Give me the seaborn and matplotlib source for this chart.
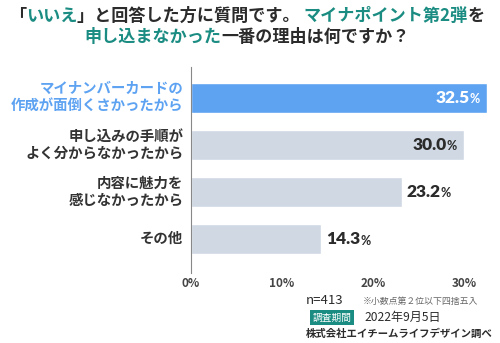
import matplotlib
matplotlib.use("Agg")
import matplotlib.pyplot as plt
import seaborn as sns
import pandas as pd

# Survey answers (percent) with the reasons as categories
reasons = [
    "マイナンバーカードの\n作成が面倒くさかったから",
    "申し込みの手順が\nよく分からなかったから",
    "内容に魅力を\n感じなかったから",
    "その他",
]
shares = [32.5, 30.0, 23.2, 14.3]
tick_values = [0, 10, 20, 30]
tick_labels = ["0%", "10%", "20%", "30%"]

BLUE = "#5ea3f2"
GREY = "#cfd8e3"
TEAL = "#1a8c82"
DARK = "#2b2b2b"
JP = ["Noto Sans CJK JP", "DejaVu Sans"]

sns.set_theme(style="white")
plt.rcParams["font.family"] = JP

df = pd.DataFrame({"reason": reasons, "share": shares})
palette = [BLUE] + [GREY] * (len(reasons) - 1)

fig = plt.figure(figsize=(5.0, 3.43), dpi=100)
W, H = 500, 343
ax = fig.add_axes([191 / W, 1 - 273 / H, 300 / W, (273 - 67) / H])

sns.barplot(data=df, y="reason", x="share", hue="reason", palette=palette,
            legend=False, width=0.64, ax=ax, saturation=1)

ax.set_xlim(0, 300 / 9.1)
ax.set_ylim(3.72, -0.66)
ax.set_xlabel("")
ax.set_ylabel("")
ax.set_xticks(tick_values)
ax.set_xticklabels(tick_labels, fontsize=8.5, color="#444444", fontweight="bold")
ax.tick_params(axis="x", length=0, pad=3)
ax.set_yticks([])
for side in ["top", "right", "bottom"]:
    ax.spines[side].set_visible(False)
ax.spines["left"].set_color("#888888")
ax.spines["left"].set_linewidth(0.8)

# Category labels to the left of the axis
for i, r in enumerate(reasons):
    ax.text(-0.85, i, r, ha="right", va="center", fontsize=10.4,
            fontweight="bold", color=BLUE if i == 0 else "#333333",
            linespacing=1.3, family=JP)

fig.canvas.draw()
renderer = fig.canvas.get_renderer()
NUM = ["Lato", "DejaVu Sans"]
NS, PS = 12.5, 9

# Value labels: number plus a smaller percent sign
for i, v in enumerate(shares):
    inside = i < 2
    color = "white" if i == 0 else DARK
    if inside:
        pct = ax.annotate("%", (v, i), xytext=(-5, -1), textcoords="offset points",
                          ha="right", va="center", fontsize=PS, fontweight="bold",
                          color=color, family=NUM)
        fig.canvas.draw()
        bb = pct.get_window_extent(renderer)
        wpt = bb.width * 72 / fig.dpi
        ax.annotate(f"{v:.1f}", (v, i), xytext=(-5 - wpt, 0), textcoords="offset points",
                    ha="right", va="center", fontsize=NS, fontweight="heavy",
                    color=color, family=NUM)
    else:
        num = ax.annotate(f"{v:.1f}", (v, i), xytext=(3.5, 0), textcoords="offset points",
                          ha="left", va="center", fontsize=NS, fontweight="heavy",
                          color=color, family=NUM)
        fig.canvas.draw()
        bb = num.get_window_extent(renderer)
        wpt = bb.width * 72 / fig.dpi
        ax.annotate("%", (v, i), xytext=(3.5 + wpt, -1), textcoords="offset points",
                    ha="left", va="center", fontsize=PS, fontweight="bold",
                    color=color, family=NUM)


def draw_line(pieces, y_px, x_start_px, size):
    x = x_start_px
    for s, c in pieces:
        t = fig.text(x / W, 1 - y_px / H, s, ha="left", va="center", fontsize=size,
                     fontweight="bold", color=c, family=JP)
        fig.canvas.draw()
        x += t.get_window_extent(renderer).width


def line_width(pieces, size):
    total = 0
    for s, c in pieces:
        t = fig.text(0, 0, s, fontsize=size, fontweight="bold", family=JP)
        total += t.get_window_extent(renderer).width
        t.remove()
    return total


title1 = [("「", DARK), ("いいえ", TEAL), ("」と回答した方に質問です。 ", DARK),
          ("マイナポイント第2弾", TEAL), ("を", DARK)]
title2 = [("申し込まなかった", TEAL), ("一番の理由は何ですか？", DARK)]
TS = 12.3
for pieces, y in [(title1, 16), (title2, 37)]:
    w = line_width(pieces, TS)
    draw_line(pieces, y, (W - w) / 2 - 3, TS)

# Footer notes
fig.text(306 / W, 1 - 300 / H, "n=413", ha="left", va="center", fontsize=9.5,
         color=DARK, family=JP)
fig.text(363 / W, 1 - 301 / H, "※小数点第２位以下四捨五入", ha="left", va="center",
         fontsize=6.4, color="#666666", family=JP)
fig.text(332 / W, 1 - 317.5 / H, "調査期間", ha="center", va="center", fontsize=7,
         color="white", family=JP,
         bbox=dict(boxstyle="square,pad=0.3", fc=TEAL, ec="none"))
fig.text(364 / W, 1 - 317.5 / H, "2022年9月5日", ha="left", va="center", fontsize=8.7,
         color=DARK, family=JP)
fig.text(306 / W, 1 - 333.5 / H, "株式会社エイチームライフデザイン調べ", ha="left",
         va="center", fontsize=7.5, fontweight="bold", color=DARK, family=JP)

fig.savefig("out.png", dpi=100)
